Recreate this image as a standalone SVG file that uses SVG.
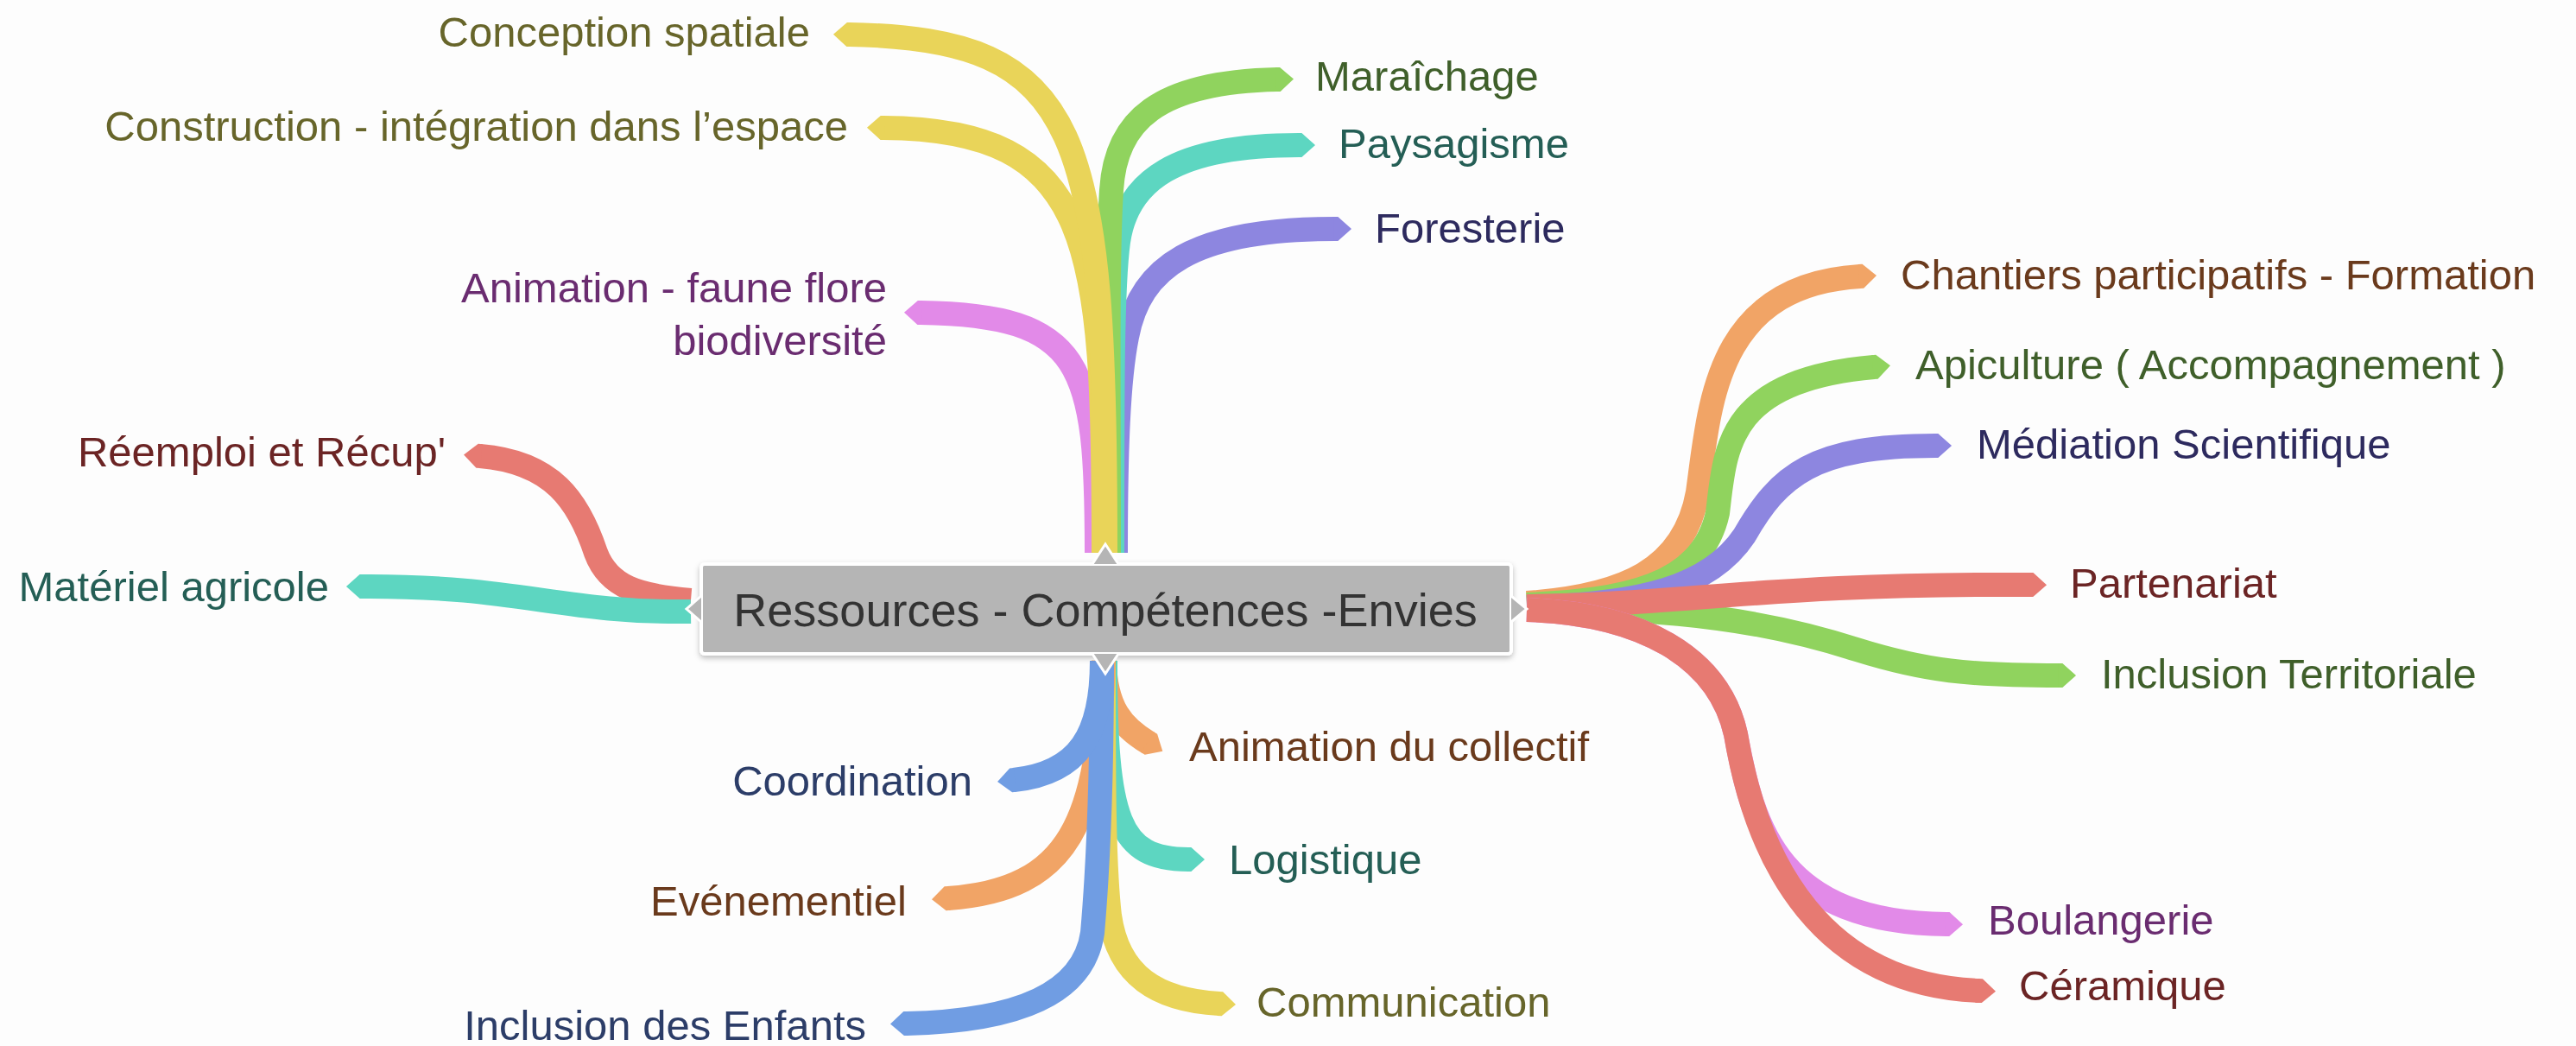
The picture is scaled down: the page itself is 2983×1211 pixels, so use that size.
<svg xmlns="http://www.w3.org/2000/svg" width="2983" height="1211" viewBox="0 0 2983 1211">
<style>
.br{fill:none;stroke-width:28;stroke-linecap:butt;stroke-linejoin:round}
.lb{font-family:"Liberation Sans",Arial,sans-serif;font-size:49px}
.y{stroke:#e9d459}.g{stroke:#90d35e}.t{stroke:#5dd6c1}.p{stroke:#8d86e0}.k{stroke:#e28ae8}.r{stroke:#e77a72}.o{stroke:#f1a466}.b{stroke:#709de3}
.cy{fill:#67652a}.cg{fill:#3f5f2a}.ct{fill:#245e55}.cp{fill:#2d2a5e}.ck{fill:#6a2c70}.cr{fill:#6b2424}.co{fill:#6a3a1c}.cb{fill:#2c3d68}
</style>
<defs>
<marker id="my" markerUnits="strokeWidth" markerWidth="1" markerHeight="1.2" viewBox="-0.1 -0.6 0.9 1.2" refX="0" refY="0" orient="auto" overflow="visible"><path d="M-0.05,-0.5 L0.12,-0.5 L0.68,0 L0.12,0.5 L-0.05,0.5 Z" fill="#e9d459"/></marker>
<marker id="mg" markerUnits="strokeWidth" markerWidth="1" markerHeight="1.2" viewBox="-0.1 -0.6 0.9 1.2" refX="0" refY="0" orient="auto" overflow="visible"><path d="M-0.05,-0.5 L0.12,-0.5 L0.68,0 L0.12,0.5 L-0.05,0.5 Z" fill="#90d35e"/></marker>
<marker id="mt" markerUnits="strokeWidth" markerWidth="1" markerHeight="1.2" viewBox="-0.1 -0.6 0.9 1.2" refX="0" refY="0" orient="auto" overflow="visible"><path d="M-0.05,-0.5 L0.12,-0.5 L0.68,0 L0.12,0.5 L-0.05,0.5 Z" fill="#5dd6c1"/></marker>
<marker id="mp" markerUnits="strokeWidth" markerWidth="1" markerHeight="1.2" viewBox="-0.1 -0.6 0.9 1.2" refX="0" refY="0" orient="auto" overflow="visible"><path d="M-0.05,-0.5 L0.12,-0.5 L0.68,0 L0.12,0.5 L-0.05,0.5 Z" fill="#8d86e0"/></marker>
<marker id="mk" markerUnits="strokeWidth" markerWidth="1" markerHeight="1.2" viewBox="-0.1 -0.6 0.9 1.2" refX="0" refY="0" orient="auto" overflow="visible"><path d="M-0.05,-0.5 L0.12,-0.5 L0.68,0 L0.12,0.5 L-0.05,0.5 Z" fill="#e28ae8"/></marker>
<marker id="mr" markerUnits="strokeWidth" markerWidth="1" markerHeight="1.2" viewBox="-0.1 -0.6 0.9 1.2" refX="0" refY="0" orient="auto" overflow="visible"><path d="M-0.05,-0.5 L0.12,-0.5 L0.68,0 L0.12,0.5 L-0.05,0.5 Z" fill="#e77a72"/></marker>
<marker id="mo" markerUnits="strokeWidth" markerWidth="1" markerHeight="1.2" viewBox="-0.1 -0.6 0.9 1.2" refX="0" refY="0" orient="auto" overflow="visible"><path d="M-0.05,-0.5 L0.12,-0.5 L0.68,0 L0.12,0.5 L-0.05,0.5 Z" fill="#f1a466"/></marker>
<marker id="mb" markerUnits="strokeWidth" markerWidth="1" markerHeight="1.2" viewBox="-0.1 -0.6 0.9 1.2" refX="0" refY="0" orient="auto" overflow="visible"><path d="M-0.05,-0.5 L0.12,-0.5 L0.68,0 L0.12,0.5 L-0.05,0.5 Z" fill="#709de3"/></marker>
<filter id="sh" x="-5%" y="-20%" width="110%" height="150%"><feDropShadow dx="0" dy="3" stdDeviation="3" flood-color="#000" flood-opacity="0.25"/></filter>
</defs>
<rect width="2983" height="1211" fill="#fdfdfd"/>
<g id="connectors">
<!-- top -->
<path class="br k" marker-end="url(#mk)" d="M1270,640 C1270,420 1255,365 1066,362"/>
<path class="br p" marker-end="url(#mp)" d="M1292,640 C1292,520 1295,440 1305,390 C1320,310 1380,265 1546,265"/>
<path class="br t" marker-end="url(#mt)" d="M1288,640 C1288,450 1288,330 1295,280 C1305,210 1360,168 1504,168"/>
<path class="br g" marker-end="url(#mg)" d="M1284,640 C1284,450 1282,300 1287,220 C1292,140 1340,95 1479,92"/>
<path class="br y" marker-end="url(#my)" d="M1278,640 C1278,280 1268,150 1023,148"/>
<path class="br y" marker-end="url(#my)" d="M1280,640 C1280,150 1255,45 984,40"/>
<!-- left -->
<path class="br r" marker-end="url(#mr)" d="M800,695 C740,690 705,680 690,640 C670,580 640,535 556,528"/>
<path class="br t" marker-end="url(#mt)" d="M800,708 C650,710 600,678 420,679"/>
<!-- right -->
<path class="br o" marker-end="url(#mo)" d="M1768,698 C1880,690 1950,660 1966,570 C1980,470 1985,330 2154,320"/>
<path class="br g" marker-end="url(#mg)" d="M1768,700 C1880,695 1970,680 1989,594 C1998,520 1998,440 2170,425"/>
<path class="br p" marker-end="url(#mp)" d="M1768,703 C1900,700 1980,680 2020,620 C2060,550 2100,516 2241,516"/>
<path class="br g" marker-end="url(#mg)" d="M1768,704 C1950,704 2050,720 2150,752 C2230,777 2280,782 2385,782"/>
<path class="br r" marker-end="url(#mr)" d="M1768,702 C1950,700 2050,675 2351,677"/>
<path class="br k" marker-end="url(#mk)" d="M1768,706 C1900,710 1990,760 2010,850 C2030,960 2060,1068 2254,1070"/>
<path class="br r" marker-end="url(#mr)" d="M1768,706 C1900,710 1990,760 2010,850 C2035,1000 2110,1140 2292,1147"/>
<!-- bottom -->
<path class="br o" marker-end="url(#mo)" d="M1279,765 C1280,820 1300,842 1330,860"/>
<path class="br t" marker-end="url(#mt)" d="M1280,765 C1280,950 1295,995 1376,995"/>
<path class="br y" marker-end="url(#my)" d="M1278,765 C1278,900 1278,1000 1285,1060 C1295,1130 1340,1158 1412,1162"/>
<path class="br o" marker-end="url(#mo)" d="M1278,765 C1272,950 1240,1030 1098,1040"/>
<path class="br b" marker-end="url(#mb)" d="M1276,765 C1276,900 1272,1000 1265,1080 C1255,1150 1180,1182 1050,1185"/>
<path class="br b" marker-end="url(#mb)" d="M1276,765 C1276,850 1250,895 1174,903"/>
</g>
<g id="center">
<rect x="812" y="653" width="938" height="104" rx="4" fill="#b5b5b5" stroke="#ffffff" stroke-width="4" filter="url(#sh)"/>
<g fill="#b5b5b5" stroke="#ffffff" stroke-width="3" stroke-linejoin="miter">
<path d="M1265,653 L1280,630 L1295,653"/>
<path d="M1265,757 L1280,780 L1295,757"/>
<path d="M812,690 L795,705 L812,720"/>
<path d="M1750,690 L1768,705 L1750,720"/>
</g>
<rect x="814" y="655" width="934" height="100" rx="3" fill="#b5b5b5"/>
<text x="1280" y="725" text-anchor="middle" font-family="Liberation Sans, Arial, sans-serif" font-size="54" fill="#333333">Ressources - Compétences -Envies</text>
</g>
<g id="n-conception"><text class="lb cy" x="938" y="54" text-anchor="end">Conception spatiale</text></g>
<g id="n-construction"><text class="lb cy" x="982" y="163" text-anchor="end">Construction - intégration dans l’espace</text></g>
<g id="n-maraichage"><text class="lb cg" x="1523" y="105">Maraîchage</text></g>
<g id="n-paysagisme"><text class="lb ct" x="1550" y="183">Paysagisme</text></g>
<g id="n-foresterie"><text class="lb cp" x="1592" y="281">Foresterie</text></g>
<g id="n-animation-faune"><text class="lb ck" text-anchor="end"><tspan x="1027" y="350">Animation - faune flore</tspan><tspan x="1027" y="411">biodiversité</tspan></text></g>
<g id="n-reemploi"><text class="lb cr" x="516" y="540" text-anchor="end">Réemploi et Récup'</text></g>
<g id="n-materiel"><text class="lb ct" x="381" y="696" text-anchor="end">Matériel agricole</text></g>
<g id="n-chantiers"><text class="lb co" x="2201" y="335">Chantiers participatifs - Formation</text></g>
<g id="n-apiculture"><text class="lb cg" x="2218" y="439">Apiculture ( Accompagnement )</text></g>
<g id="n-mediation"><text class="lb cp" x="2289" y="531">Médiation Scientifique</text></g>
<g id="n-partenariat"><text class="lb cr" x="2397" y="692">Partenariat</text></g>
<g id="n-inclusion-territoriale"><text class="lb cg" x="2433" y="797">Inclusion Territoriale</text></g>
<g id="n-boulangerie"><text class="lb ck" x="2302" y="1082">Boulangerie</text></g>
<g id="n-ceramique"><text class="lb cr" x="2338" y="1158">Céramique</text></g>
<g id="n-animation-collectif"><text class="lb co" x="1377" y="881">Animation du collectif</text></g>
<g id="n-coordination"><text class="lb cb" x="1126" y="921" text-anchor="end">Coordination</text></g>
<g id="n-logistique"><text class="lb ct" x="1423" y="1012">Logistique</text></g>
<g id="n-evenementiel"><text class="lb co" x="1050" y="1060" text-anchor="end">Evénementiel</text></g>
<g id="n-communication"><text class="lb cy" x="1455" y="1177">Communication</text></g>
<g id="n-inclusion-enfants"><text class="lb cb" x="1003" y="1204" text-anchor="end">Inclusion des Enfants</text></g>
</svg>
